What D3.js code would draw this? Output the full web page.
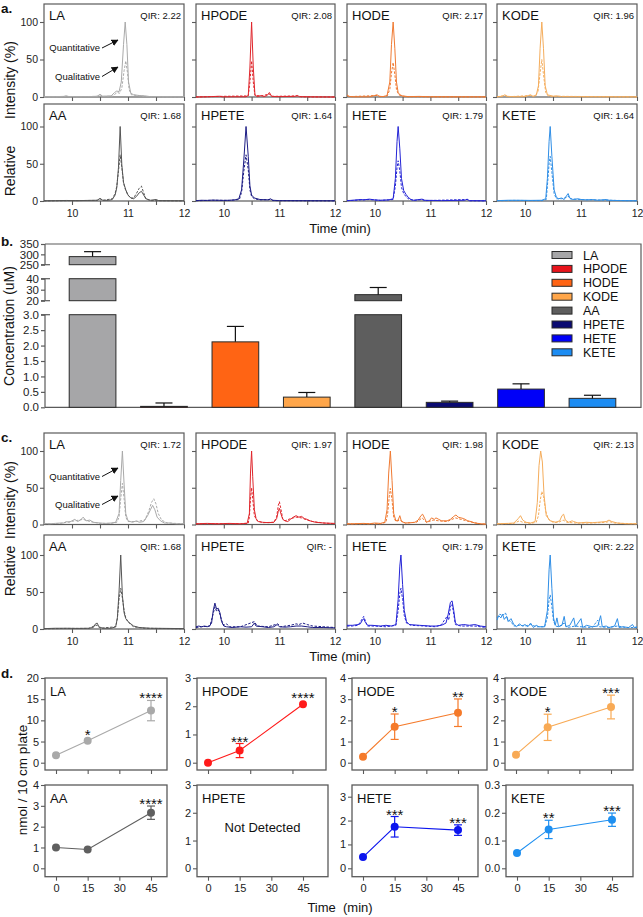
<!DOCTYPE html>
<html><head><meta charset="utf-8">
<script src="https://cdn.jsdelivr.net/npm/d3@7/dist/d3.min.js"></script>
<style>
body{margin:0;background:#fff}
svg{display:block}
text{font-family:"Liberation Sans",Arial,Helvetica,sans-serif}
</style></head>
<body><svg id="chart" width="643" height="917"></svg>
<script>
// ---------------- DATA ----------------
const compounds = ["LA","HPODE","HODE","KODE","AA","HPETE","HETE","KETE"];
const qirA = ["2.22","2.08","2.17","1.96","1.68","1.64","1.79","1.64"];
const qirC = ["1.72","1.97","1.98","2.13","1.68","-","1.79","2.22"];
const chromTimeTicks = [10,10.5,11,11.5,12];
const chromIntTicks = [0,50,100];

// panel a traces [time (min), relative intensity (%)]
const aLA_quant = [[9.5,0.5],[9.7,0.5],[9.85,0.8],[9.9,1.5],[9.95,0.5],[10.1,0.5],[10.3,0.5],[10.45,1],[10.5,3.5],[10.55,1],[10.7,1.5],[10.76,6],[10.8,8],[10.84,7],[10.88,20],[10.92,70],[10.95,100],[10.98,70],[11.01,20],[11.05,5],[11.1,3],[11.2,2],[11.3,1.5],[11.4,0.5],[11.6,0.5],[12,0.3]];
const aLA_qual = [[9.5,0.3],[9.85,0.5],[9.9,1.2],[9.95,0.3],[10.45,0.8],[10.5,3],[10.55,0.8],[10.72,1],[10.77,4],[10.81,6],[10.85,5],[10.89,12],[10.93,35],[10.96,48],[10.99,33],[11.02,10],[11.06,3],[11.2,1.5],[11.4,0.3],[12,0.2]];
const aHPODE_quant = [[9.5,0],[9.7,0.3],[9.93,1],[9.97,0.2],[10.2,0.3],[10.4,0.3],[10.44,2],[10.47,40],[10.5,100],[10.53,40],[10.56,3],[10.6,0.5],[10.68,2],[10.72,0.5],[10.78,2],[10.82,6],[10.86,1],[10.95,0.5],[11.28,0.8],[11.32,2],[11.36,0.5],[11.6,0.2],[12,0]];
const aHPODE_qual = [[9.5,0],[9.93,0.8],[10.44,1.5],[10.47,20],[10.5,48],[10.53,20],[10.56,2],[10.68,1.5],[10.82,4],[10.86,0.8],[11.32,1.5],[11.4,0.2],[12,0]];
const aHODE_quant = [[9.5,3],[9.53,1],[9.6,0.2],[9.9,0.3],[10.0,2],[10.04,3],[10.08,1],[10.15,0.5],[10.22,2],[10.27,20],[10.3,70],[10.33,100],[10.36,65],[10.39,20],[10.42,6],[10.45,3],[10.5,1.5],[10.6,0.5],[10.8,0.8],[11.0,0.3],[12,0.2]];
const aHODE_qual = [[9.5,2],[9.55,0.5],[10.04,2],[10.1,0.5],[10.22,1],[10.27,10],[10.3,32],[10.33,46],[10.36,30],[10.39,10],[10.43,3],[10.5,1],[10.6,0.3],[12,0.1]];
const aKODE_quant = [[9.5,0.3],[9.6,1],[9.64,3],[9.68,1],[9.8,0.3],[10.0,0.5],[10.06,2],[10.1,3],[10.14,1],[10.2,2],[10.24,15],[10.27,65],[10.3,100],[10.33,65],[10.36,15],[10.4,3],[10.5,1],[10.57,1.5],[10.65,0.5],[11.0,0.3],[12,0.2]];
const aKODE_qual = [[9.5,0.2],[9.64,2],[9.7,0.3],[10.1,2],[10.15,0.5],[10.23,6],[10.27,32],[10.3,50],[10.33,30],[10.37,6],[10.42,1],[12,0.1]];
const aAA_quant = [[9.5,0.3],[9.7,0.5],[9.9,0.7],[10.1,0.5],[10.3,0.8],[10.45,1],[10.5,3.5],[10.55,1],[10.65,0.8],[10.72,2],[10.77,8],[10.8,18],[10.83,45],[10.86,100],[10.89,48],[10.92,25],[10.96,15],[11.0,8],[11.05,4],[11.1,3],[11.15,6],[11.2,11],[11.24,13],[11.28,8],[11.32,3],[11.4,1],[11.5,2],[11.55,0.5],[12,0.3]];
const aAA_qual = [[9.5,0.2],[9.9,0.5],[10.45,0.8],[10.5,3],[10.55,0.8],[10.72,3],[10.77,10],[10.8,20],[10.83,40],[10.86,62],[10.89,45],[10.92,24],[10.96,14],[11.0,8],[11.05,4],[11.1,4],[11.15,10],[11.2,17],[11.24,20],[11.28,11],[11.32,3],[11.4,0.5],[12,0.2]];
const aHPETE_quant = [[9.5,0.5],[9.6,1],[9.7,0.8],[9.8,1.2],[9.9,1],[10.0,0.8],[10.1,1],[10.2,1.5],[10.27,3],[10.32,15],[10.36,55],[10.4,100],[10.44,60],[10.47,20],[10.5,8],[10.55,4],[10.65,2],[10.8,1.5],[10.84,3],[10.88,1],[11.0,0.5],[12,0.3]];
const aHPETE_qual = [[9.5,0.3],[9.8,1],[10.1,0.8],[10.28,2],[10.32,12],[10.36,40],[10.4,62],[10.44,42],[10.47,15],[10.5,6],[10.55,3],[10.65,1.5],[10.84,2],[10.9,0.5],[12,0.2]];
const aHETE_quant = [[9.5,0.5],[9.6,1],[9.75,2],[9.8,1.5],[9.9,2.5],[10.0,1.5],[10.1,1],[10.25,1.5],[10.33,3],[10.37,30],[10.4,80],[10.42,100],[10.45,70],[10.48,30],[10.52,14],[10.56,9],[10.6,5],[10.65,2],[10.7,1],[10.85,2.5],[10.9,1],[11.2,0.5],[11.62,1],[11.66,2.5],[11.7,0.5],[12,0.3]];
const aHETE_qual = [[9.5,0.3],[9.75,1.5],[9.9,2],[10.1,0.8],[10.33,2],[10.37,20],[10.4,45],[10.42,54],[10.45,40],[10.48,18],[10.52,10],[10.56,6],[10.6,3],[10.7,0.8],[10.85,2],[10.9,0.5],[11.66,2],[11.7,0.3],[12,0.2]];
const aKETE_quant = [[9.5,0.5],[9.7,1],[9.9,1],[10.1,0.8],[10.3,1],[10.37,3],[10.4,30],[10.43,80],[10.45,100],[10.48,60],[10.52,15],[10.56,5],[10.6,3],[10.65,4],[10.7,2],[10.74,7],[10.77,10],[10.8,4],[10.85,2],[10.95,3],[11.0,2],[11.1,1.5],[11.2,2],[11.3,1],[11.45,2],[11.5,1],[11.7,0.5],[12,0.3]];
const aKETE_qual = [[9.5,0.3],[9.8,0.8],[10.3,0.5],[10.38,2],[10.4,20],[10.43,50],[10.45,60],[10.48,38],[10.52,10],[10.56,3],[10.65,3],[10.74,5],[10.77,7],[10.8,3],[10.95,2],[11.2,1.5],[11.5,1],[12,0.2]];

// panel c traces
const cLA_quant = [[9.5,1.5],[9.6,1],[9.7,1.5],[9.8,2],[9.85,2],[9.9,4],[9.95,3],[10.0,5],[10.05,7],[10.1,4],[10.15,6],[10.2,10],[10.25,5],[10.32,6],[10.38,3],[10.5,2],[10.6,1.5],[10.7,2],[10.78,3],[10.84,15],[10.87,60],[10.9,100],[10.93,55],[10.96,15],[11.0,5],[11.08,3],[11.15,5],[11.2,3],[11.28,4],[11.35,12],[11.4,20],[11.44,26],[11.48,20],[11.52,10],[11.58,5],[11.65,2],[11.75,2],[11.85,1],[12,1]];
const cLA_qual = [[9.5,1],[9.8,1.5],[9.9,3],[10.05,5],[10.2,7],[10.32,4],[10.5,1.5],[10.7,1.5],[10.8,3],[10.84,10],[10.87,35],[10.9,56],[10.93,35],[10.96,10],[11.0,4],[11.15,4],[11.3,6],[11.37,18],[11.42,30],[11.46,35],[11.5,28],[11.54,15],[11.6,6],[11.7,2],[12,1]];
const cHPODE_quant = [[9.5,1],[9.7,1.5],[9.9,1],[10.1,1.5],[10.3,1],[10.42,1.5],[10.46,15],[10.48,70],[10.5,100],[10.52,65],[10.55,20],[10.58,8],[10.62,4],[10.7,3],[10.8,2.5],[10.9,3],[10.95,8],[10.98,18],[11.0,22],[11.03,14],[11.06,7],[11.1,5],[11.15,4],[11.2,7],[11.25,10],[11.3,12],[11.35,10],[11.4,11],[11.45,8],[11.5,7],[11.55,5],[11.65,3],[11.8,2],[12,1.5]];
const cHPODE_qual = [[9.5,0.8],[9.9,1],[10.3,1],[10.44,2],[10.46,10],[10.48,35],[10.5,50],[10.52,35],[10.55,12],[10.6,5],[10.7,2.5],[10.9,3],[10.95,10],[10.98,26],[11.0,31],[11.03,20],[11.06,8],[11.1,5],[11.2,8],[11.3,10],[11.4,9],[11.5,6],[11.6,4],[11.8,2],[12,1]];
const cHODE_quant = [[9.5,1],[9.6,1],[9.8,1.5],[9.9,1],[10.0,2],[10.1,1.5],[10.18,3],[10.22,20],[10.25,70],[10.28,100],[10.31,60],[10.34,15],[10.38,5],[10.42,6],[10.45,12],[10.48,4],[10.55,2],[10.65,2.5],[10.72,3],[10.78,6],[10.83,12],[10.86,14],[10.9,8],[10.93,3],[10.98,5],[11.02,9],[11.07,7],[11.1,9],[11.15,7],[11.2,5],[11.3,5],[11.36,7],[11.42,11],[11.46,13],[11.5,10],[11.55,9],[11.6,8],[11.67,5],[11.73,4],[11.8,2],[11.9,1],[12,0.5]];
const cHODE_qual = [[9.5,0.8],[9.9,1],[10.1,1],[10.2,3],[10.23,14],[10.26,38],[10.28,49],[10.31,33],[10.34,10],[10.38,4],[10.45,6],[10.55,2],[10.75,3],[10.85,9],[10.93,3],[11.05,6],[11.15,5],[11.3,4],[11.45,9],[11.6,6],[11.75,3],[11.9,1],[12,0.5]];
const cKODE_quant = [[9.5,1],[9.7,1.5],[9.8,2],[9.88,8],[9.92,12],[9.96,6],[10.02,3],[10.1,2],[10.18,4],[10.22,30],[10.25,80],[10.28,100],[10.31,85],[10.34,40],[10.38,12],[10.45,5],[10.55,3],[10.62,5],[10.66,12],[10.69,14],[10.72,6],[10.78,3],[10.84,5],[10.87,4],[10.95,2],[11.1,3],[11.2,2.5],[11.3,3],[11.45,4],[11.5,6],[11.55,4],[11.65,2],[11.8,1],[12,1]];
const cKODE_qual = [[9.5,0.8],[9.8,1.5],[9.9,5],[9.96,3],[10.1,1.5],[10.2,3],[10.24,12],[10.27,32],[10.3,45],[10.33,38],[10.37,18],[10.42,7],[10.5,3],[10.6,3],[10.68,6],[10.75,3],[10.9,2],[11.2,2],[11.45,3],[11.5,4],[11.6,2],[12,0.8]];
const cAA_quant = [[9.5,0.5],[9.7,1],[9.9,1],[10.1,0.8],[10.3,1],[10.38,2],[10.42,7],[10.45,8],[10.48,3],[10.55,1],[10.7,1],[10.78,3],[10.81,15],[10.84,50],[10.87,100],[10.9,45],[10.93,22],[10.96,14],[11.0,10],[11.05,7],[11.1,4],[11.2,2],[11.4,1],[11.7,0.8],[12,0.5]];
const cAA_qual = [[9.5,0.3],[9.9,0.8],[10.3,0.8],[10.42,5],[10.45,5],[10.5,1],[10.78,3],[10.81,14],[10.84,40],[10.87,55],[10.9,42],[10.93,25],[10.96,15],[11.0,10],[11.05,6],[11.1,3],[11.3,1],[12,0.3]];
const cHPETE_quant = [[9.5,3],[9.55,4],[9.6,3],[9.65,4],[9.7,3],[9.74,4],[9.78,8],[9.81,25],[9.84,35],[9.87,27],[9.9,28],[9.93,22],[9.96,10],[10.0,4],[10.05,3],[10.15,2],[10.3,3],[10.4,2.5],[10.5,3],[10.55,8],[10.58,4],[10.7,3],[10.8,2],[10.9,3],[10.96,6],[11.0,3],[11.1,2.5],[11.2,3],[11.3,4],[11.4,4],[11.5,3],[11.6,2],[11.8,2],[12,1.5]];
const cHPETE_qual = [[9.5,2],[9.6,3],[9.75,4],[9.8,18],[9.84,30],[9.87,24],[9.9,26],[9.93,20],[9.96,12],[10.0,5],[10.05,7],[10.1,3],[10.3,3],[10.55,10],[10.6,4],[10.8,3],[10.97,7],[11.02,3],[11.2,5],[11.3,7],[11.35,6],[11.42,8],[11.5,6],[11.6,4],[11.8,3],[12,2]];
const cHETE_quant = [[9.5,5],[9.6,5],[9.7,6],[9.74,7],[9.77,11],[9.8,14],[9.83,9],[9.87,5],[9.95,5],[10.1,4],[10.2,5],[10.3,4],[10.38,6],[10.42,40],[10.45,85],[10.47,100],[10.5,60],[10.53,25],[10.57,10],[10.62,6],[10.8,5],[11.0,4],[11.1,4],[11.2,5],[11.28,8],[11.32,20],[11.36,36],[11.39,38],[11.42,25],[11.45,8],[11.5,5],[11.6,6],[11.7,5],[11.8,6],[11.9,4],[12,3]];
const cHETE_qual = [[9.5,4],[9.6,4],[9.7,5],[9.76,12],[9.8,17],[9.83,11],[9.87,4],[10.0,4],[10.2,3],[10.38,5],[10.42,25],[10.45,48],[10.47,55],[10.5,40],[10.53,18],[10.57,8],[10.65,5],[10.9,4],[11.1,3],[11.2,6],[11.27,14],[11.3,17],[11.33,12],[11.36,30],[11.39,34],[11.42,20],[11.45,6],[11.55,4],[11.8,4],[12,2]];
const cKETE_quant = [[9.5,12],[9.53,18],[9.57,15],[9.6,20],[9.63,13],[9.67,17],[9.7,10],[9.75,14],[9.8,6],[9.85,3],[9.9,7],[9.95,4],[10.0,6],[10.05,3],[10.1,8],[10.15,2],[10.2,5],[10.25,3],[10.35,3],[10.4,25],[10.43,80],[10.45,100],[10.48,55],[10.51,15],[10.54,5],[10.57,15],[10.6,3],[10.66,5],[10.7,17],[10.73,3],[10.8,5],[10.87,15],[10.9,3],[11.0,14],[11.03,2],[11.1,5],[11.2,3],[11.3,4],[11.35,18],[11.38,3],[11.45,4],[11.5,2],[11.6,4],[11.65,14],[11.68,2],[11.75,3],[11.85,2],[11.92,6],[11.95,2],[12,3]];
const cKETE_qual = [[9.5,15],[9.55,20],[9.6,18],[9.65,22],[9.7,12],[9.75,10],[9.8,4],[9.9,5],[10.0,4],[10.1,6],[10.2,3],[10.35,3],[10.4,15],[10.43,40],[10.45,46],[10.48,30],[10.51,10],[10.55,4],[10.6,3],[10.7,8],[10.75,2],[10.9,4],[11.0,3],[11.2,2],[11.3,12],[11.33,3],[11.5,2],[11.65,4],[11.8,2],[12,2]];

// panel b: concentration (uM)
const concMean = [289, 0.03, 2.12, 0.33, 25.5, 0.16, 0.59, 0.29];
const concErr  = [24, 0.11, 0.5, 0.15, 6.5, 0.04, 0.17, 0.10];
const bTicksTop = [250,300,350];
const bTicksMid = [20,30,40];
const bTicksBot = [0,0.5,1.0,1.5,2.0,2.5,3.0];

// panel d: nmol / 10 cm plate
const dTimes = [0,15,45];
const dLA_mean = [1.75,5.2,12.3],   dLA_err = [0,0,2.4],     dLA_sig = ["","*","****"];
const dHPODE_mean = [0,0.43,2.07],  dHPODE_err = [0,0.25,0], dHPODE_sig = ["","***","****"];
const dHODE_mean = [0.28,1.7,2.36], dHODE_err = [0,0.6,0.65], dHODE_sig = ["","*","**"];
const dKODE_mean = [0.38,1.67,2.63],dKODE_err = [0,0.62,0.56],dKODE_sig = ["","*","***"];
const dAA_mean = [1.0,0.9,2.67],    dAA_err = [0,0,0.32],    dAA_sig = ["","","****"];
const dHETE_mean = [0.47,1.74,1.6], dHETE_err = [0,0.43,0.22],dHETE_sig = ["","***","***"];
const dKETE_mean = [0.055,0.14,0.175], dKETE_err = [0,0.033,0.024], dKETE_sig = ["","**","***"];
const dTimeTicks = [0,15,30,45];

// ---------------- STYLE ----------------
const lineColors = ["#aaaaaa","#e0262c","#f07a32","#f5ad5c","#555555","#1c1c84","#2424d6","#2f8ee6"];
const barColors  = ["#a6a6a8","#e8141c","#ff6414","#ffa64a","#5e5e5e","#0b0b72","#0000f8","#1c8cf2"];
const dotColors  = ["#a9a9a9","#ff1a1a","#f57a2a","#f8aa55","#5f5f5f","#1c1c84","#0b14ee","#1e8ff0"];
const FRAME = "#5a5a5a";
const TXT = "#222";

const svg = d3.select("#chart");
const defs = svg.append("defs");
defs.append("marker").attr("id","ah").attr("viewBox","0 0 10 10").attr("refX",9).attr("refY",5)
  .attr("markerWidth",7).attr("markerHeight",7).attr("orient","auto-start-reverse").attr("markerUnits","userSpaceOnUse")
  .append("path").attr("d","M0,0L10,5L0,10z").attr("fill","#111");

function styleAxis(g, fs){
  g.select(".domain").remove();
  g.selectAll(".tick line").attr("stroke",FRAME).attr("stroke-width",1.1);
  g.selectAll(".tick text").attr("font-size",fs).attr("fill",TXT)
   .attr("font-family",'"Liberation Sans",Arial,sans-serif');
}

// panel letters
[["a.",12.5],["b.",246],["c.",442],["d.",678]].forEach(([t,y])=>{
  svg.append("text").attr("x",1).attr("y",y).attr("font-size",13.5).attr("font-weight","bold").attr("fill","#111").text(t);
});

// ---------------- CHROMATOGRAMS (a, c) ----------------
const colX = [[44,184],[196,335],[347,486],[497,637]];
const rowsA = [{top:4,y100:22,y0:97},{top:104,y100:126.5,y0:201}];
const rowsC = [{top:433,y100:451,y0:524.5},{top:535,y100:555,y0:629}];
const tracesA = [[aLA_quant,aLA_qual],[aHPODE_quant,aHPODE_qual],[aHODE_quant,aHODE_qual],[aKODE_quant,aKODE_qual],
                 [aAA_quant,aAA_qual],[aHPETE_quant,aHPETE_qual],[aHETE_quant,aHETE_qual],[aKETE_quant,aKETE_qual]];
const tracesC = [[cLA_quant,cLA_qual],[cHPODE_quant,cHPODE_qual],[cHODE_quant,cHODE_qual],[cKODE_quant,cKODE_qual],
                 [cAA_quant,cAA_qual],[cHPETE_quant,cHPETE_qual],[cHETE_quant,cHETE_qual],[cKETE_quant,cKETE_qual]];

function chromPanel(i, rows, traces, qirs){
  const r = Math.floor(i/4), c = i%4;
  const row = rows[r], [px0,px1] = colX[c];
  const x = d3.scaleLinear().domain([9.5,12]).range([px0,px1]);
  const y = d3.scaleLinear().domain([0,100]).range([row.y0,row.y100]);
  const g = svg.append("g");
  g.append("g").attr("transform",`translate(${px0},0)`)
    .call(d3.axisLeft(y).tickValues(chromIntTicks).tickSize(4).tickFormat(c===0?d3.format("d"):()=>""))
    .call(s=>styleAxis(s,10.5)).call(s=>s.selectAll(".tick text").attr("x",-6));
  g.append("g").attr("transform",`translate(0,${row.y0})`)
    .call(d3.axisBottom(x).tickValues(chromTimeTicks).tickSize(4).tickFormat(d=>(r===1 && d%1===0)?d:""))
    .call(s=>styleAxis(s,10.5)).call(s=>s.selectAll(".tick text").attr("y",9));
  g.append("rect").attr("x",px0).attr("y",row.top).attr("width",px1-px0).attr("height",row.y0-row.top)
    .attr("fill","none").attr("stroke",FRAME).attr("stroke-width",1.2);
  const line = d3.line().x(d=>x(d[0])).y(d=>y(d[1]));
  g.append("path").datum(traces[i][1]).attr("d",line).attr("fill","none").attr("stroke",lineColors[i])
    .attr("stroke-width",1).attr("stroke-dasharray","2.5,1.5");
  g.append("path").datum(traces[i][0]).attr("d",line).attr("fill","none").attr("stroke",lineColors[i]).attr("stroke-width",1);
  g.append("text").attr("x",px0+5).attr("y",row.top+16).attr("font-size",13).attr("fill","#111").text(compounds[i]);
  g.append("text").attr("x",px1-3).attr("y",row.top+14.5).attr("text-anchor","end").attr("font-size",9.5)
    .attr("fill","#111").text("QIR: "+qirs[i]);
  return {x,y};
}
function annotate(sc, xs, ys){
  // Quantitative / Qualitative arrows in the LA panel
  const g = svg.append("g");
  [["Quantitative",ys[0],ys[1]],["Qualitative",ys[2],ys[3]]].forEach(([t,ty,ay])=>{
    g.append("text").attr("x",xs).attr("y",ty).attr("text-anchor","end").attr("font-size",9.5).attr("fill","#111").text(t);
    g.append("line").attr("x1",xs+2).attr("y1",ty-3).attr("x2",sc.x(10.82)).attr("y2",ay)
      .attr("stroke","#111").attr("stroke-width",1).attr("marker-end","url(#ah)");
  });
}
compounds.forEach((_,i)=>{
  const sa = chromPanel(i,rowsA,tracesA,qirA);
  if(i===0) annotate(sa,100,[51,40,79.5,67]);
  const sc = chromPanel(i,rowsC,tracesC,qirC);
  if(i===0) annotate(sc,100,[479.5,468,507.5,496]);
});
function yLabelChrom(cI,cR){
  svg.append("text").attr("transform",`translate(15,${cI}) rotate(-90)`).attr("text-anchor","middle")
    .attr("font-size",14).attr("fill","#111").text("Intensity (%)");
  svg.append("text").attr("transform",`translate(15,${cR}) rotate(-90)`).attr("text-anchor","middle")
    .attr("font-size",14).attr("fill","#111").text("Relative");
}
yLabelChrom(80,171); yLabelChrom(500,571);
svg.append("text").attr("x",340).attr("y",233).attr("text-anchor","middle").attr("font-size",13).attr("fill","#111").text("Time (min)");
svg.append("text").attr("x",340).attr("y",661).attr("text-anchor","middle").attr("font-size",13).attr("fill","#111").text("Time (min)");

// ---------------- BAR CHART (b) ----------------
const bx = d3.scaleBand().domain(compounds).range([44.5,640.5]).padding(0.346);
const segs = [
  {s:d3.scaleLinear().domain([250,350]).range([264.7,244]), ticks:bTicksTop, fmt:d3.format("d"), capLo:true, capHi:false},
  {s:d3.scaleLinear().domain([20,40]).range([300.7,278.7]), ticks:bTicksMid, fmt:d3.format("d"), capLo:true, capHi:true},
  {s:d3.scaleLinear().domain([0,3]).range([407.3,314.7]),   ticks:bTicksBot, fmt:d3.format(".1f"), capLo:false, capHi:true}
];
const bAxisX = 45;
const gb = svg.append("g");
gb.append("path").attr("d",`M${bAxisX},244H641V407.3H${bAxisX}`).attr("fill","none").attr("stroke",FRAME).attr("stroke-width",1.2);
segs.forEach(seg=>{
  const ag = gb.append("g").attr("transform",`translate(${bAxisX},0)`)
    .call(d3.axisLeft(seg.s).tickValues(seg.ticks).tickSize(4).tickFormat(seg.fmt));
  ag.select(".domain").attr("stroke",FRAME).attr("stroke-width",1.2).attr("d",`M0,${seg.s.range()[0]}V${seg.s.range()[1]}`);
  ag.selectAll(".tick line").attr("stroke",FRAME).attr("stroke-width",1.2);
  ag.selectAll(".tick text").attr("font-size",11.5).attr("fill",TXT).attr("x",-6).attr("font-family",'"Liberation Sans",Arial,sans-serif');
  const d = seg.s.domain();
  if(seg.capLo) gb.append("line").attr("x1",bAxisX-4).attr("x2",bAxisX+5).attr("y1",seg.s(d[0])).attr("y2",seg.s(d[0])).attr("stroke",FRAME).attr("stroke-width",1.2);
  if(seg.capHi) gb.append("line").attr("x1",bAxisX-4).attr("x2",bAxisX+5).attr("y1",seg.s(d[1])).attr("y2",seg.s(d[1])).attr("stroke",FRAME).attr("stroke-width",1.2);
});
function segOf(v){ return segs.find(sg=>v>=sg.s.domain()[0] && v<=sg.s.domain()[1]) || segs[2]; }
compounds.forEach((k,i)=>{
  const v = concMean[i];
  segs.forEach(seg=>{
    const [lo,hi] = seg.s.domain();
    if(v>lo){
      const top = Math.min(v,hi);
      gb.append("rect").attr("x",bx(k)).attr("width",bx.bandwidth())
        .attr("y",seg.s(top)).attr("height",seg.s(lo)-seg.s(top))
        .attr("fill",barColors[i]).attr("stroke","#2a2a2a").attr("stroke-width",1);
    }
  });
  const sg = segOf(v), cx = bx(k)+bx.bandwidth()/2, yt = sg.s(v+concErr[i]);
  gb.append("line").attr("x1",cx).attr("x2",cx).attr("y1",sg.s(v)).attr("y2",yt).attr("stroke","#111").attr("stroke-width",1.2);
  gb.append("line").attr("x1",cx-8.5).attr("x2",cx+8.5).attr("y1",yt).attr("y2",yt).attr("stroke","#111").attr("stroke-width",1.2);
});
const lg = gb.append("g");
compounds.forEach((k,i)=>{
  const ly = 255 + i*13.9;
  lg.append("rect").attr("x",552).attr("y",ly-3.5).attr("width",20).attr("height",7)
    .attr("fill",barColors[i]).attr("stroke","#2a2a2a").attr("stroke-width",1);
  lg.append("text").attr("x",583).attr("y",ly+4.5).attr("font-size",12.5).attr("fill","#111").text(k);
});
svg.append("text").attr("transform","translate(14,326) rotate(-90)").attr("text-anchor","middle")
  .attr("font-size",14).attr("fill","#111").text("Concentration (uM)");

// ---------------- TIME COURSE (d) ----------------
const dRows = [{top:678,y0:762.7,bottom:770},{top:785,y0:868.3,bottom:876.7}];
const dPanels = [
  {i:0, fx:[45,167],  row:0, yMax:20,  yT:[0,5,10,15,20], fmt:"d",  xT:dTimeTicks, mean:dLA_mean, err:dLA_err, sig:dLA_sig},
  {i:1, fx:[197,326], row:0, yMax:3,   yT:[0,1,2,3],      fmt:"d",  xT:[0,20,40],  mean:dHPODE_mean, err:dHPODE_err, sig:dHPODE_sig},
  {i:2, fx:[352,487], row:0, yMax:4,   yT:[0,1,2,3,4],    fmt:"d",  xT:dTimeTicks, mean:dHODE_mean, err:dHODE_err, sig:dHODE_sig},
  {i:3, fx:[505,633], row:0, yMax:4,   yT:[0,1,2,3,4],    fmt:"d",  xT:dTimeTicks, mean:dKODE_mean, err:dKODE_err, sig:dKODE_sig},
  {i:4, fx:[45,167],  row:1, yMax:4,   yT:[0,1,2,3,4],    fmt:"d",  xT:dTimeTicks, mean:dAA_mean, err:dAA_err, sig:dAA_sig},
  {i:5, fx:[197,328], row:1, yMax:3,   yT:[0,1,2,3],      fmt:"d",  xT:dTimeTicks, mean:null},
  {i:6, fx:[352,478], row:1, yMax:3.49,yT:[0,1,2,3],      fmt:"d",  xT:dTimeTicks, mean:dHETE_mean, err:dHETE_err, sig:dHETE_sig},
  {i:7, fx:[506,633], row:1, yMax:0.3, yT:[0,0.1,0.2,0.3],fmt:".1f",xT:dTimeTicks, mean:dKETE_mean, err:dKETE_err, sig:dKETE_sig}
];
dPanels.forEach(p=>{
  const row = dRows[p.row], [fx0,fx1] = p.fx, col = dotColors[p.i];
  const x = d3.scaleLinear().domain([0,45]).range([fx0+11,fx0+106]);
  const y = d3.scaleLinear().domain([0,p.yMax]).range([row.y0,row.top]);
  const g = svg.append("g");
  g.append("g").attr("transform",`translate(${fx0},0)`)
    .call(d3.axisLeft(y).tickValues(p.yT).tickSize(4).tickFormat(d3.format(p.fmt)))
    .call(s=>styleAxis(s,11)).call(s=>s.selectAll(".tick text").attr("x",-6));
  g.append("g").attr("transform",`translate(0,${row.bottom})`)
    .call(d3.axisBottom(x).tickValues(p.xT).tickSize(4).tickFormat(p.row===1?d3.format("d"):()=>""))
    .call(s=>styleAxis(s,11)).call(s=>s.selectAll(".tick text").attr("y",8));
  g.append("rect").attr("x",fx0).attr("y",row.top).attr("width",fx1-fx0).attr("height",row.bottom-row.top)
    .attr("fill","none").attr("stroke",FRAME).attr("stroke-width",1.3);
  g.append("text").attr("x",fx0+5).attr("y",row.top+18).attr("font-size",13).attr("fill","#111").text(compounds[p.i]);
  if(!p.mean){
    g.append("text").attr("x",(fx0+fx1)/2).attr("y",y(1.5)+5).attr("text-anchor","middle").attr("font-size",13).attr("fill","#111").text("Not Detected");
    return;
  }
  const pts = dTimes.map((t,j)=>({t, m:p.mean[j], e:p.err[j], s:p.sig[j]}));
  g.append("path").datum(pts).attr("d",d3.line().x(d=>x(d.t)).y(d=>y(d.m))).attr("fill","none").attr("stroke",col).attr("stroke-width",1.1);
  pts.forEach(d=>{
    if(d.e>0){
      const cx = x(d.t);
      g.append("line").attr("x1",cx).attr("x2",cx).attr("y1",y(d.m-d.e)).attr("y2",y(d.m+d.e)).attr("stroke",col).attr("stroke-width",1.2);
      [d.m-d.e,d.m+d.e].forEach(v=>g.append("line").attr("x1",cx-4).attr("x2",cx+4).attr("y1",y(v)).attr("y2",y(v)).attr("stroke",col).attr("stroke-width",1.2));
    }
    g.append("circle").attr("cx",x(d.t)).attr("cy",y(d.m)).attr("r",4).attr("fill",col);
    if(d.s){
      const top = d.e>0 ? y(d.m+d.e) : y(d.m)-4;
      g.append("text").attr("x",x(d.t)).attr("y",top+3).attr("text-anchor","middle").attr("font-size",15).attr("fill","#111").text(d.s);
    }
  });
});
svg.append("text").attr("transform","translate(27,780) rotate(-90)").attr("text-anchor","middle")
  .attr("font-size",13.5).attr("fill","#111").text("nmol / 10 cm plate");
svg.append("text").attr("x",340).attr("y",912).attr("text-anchor","middle").attr("font-size",13).attr("fill","#111")
  .style("white-space","pre").text("Time  (min)");
</script></body></html>
